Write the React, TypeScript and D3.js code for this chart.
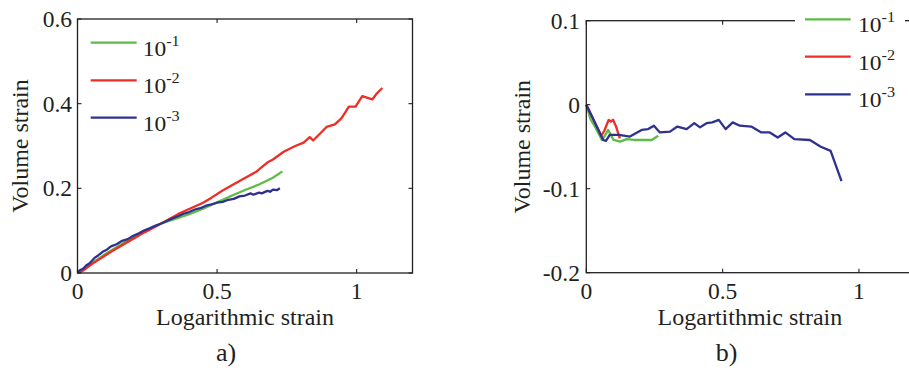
import React from "react";
import * as d3 from "d3";

// ---------- data ----------
const seriesLabels = ["-1", "-2", "-3"];
const seriesColors = ["#5dbb46", "#ee2d24", "#2e3192"];

// panel a)
const aGreen: [number, number][] = [
  [0, 0], [0.05, 0.022], [0.1, 0.045], [0.15, 0.065], [0.2, 0.085], [0.25, 0.102],
  [0.3, 0.117], [0.35, 0.128], [0.4, 0.139], [0.45, 0.152], [0.5, 0.167],
  [0.55, 0.182], [0.6, 0.196], [0.65, 0.209], [0.7, 0.225], [0.734, 0.24],
];
const aRed: [number, number][] = [
  [0, 0], [0.02, 0.006], [0.06, 0.025], [0.12, 0.05], [0.18, 0.073], [0.24, 0.096],
  [0.3, 0.117], [0.36, 0.139], [0.4, 0.151], [0.45, 0.166], [0.48, 0.178],
  [0.52, 0.195], [0.55, 0.206], [0.59, 0.221], [0.64, 0.239], [0.66, 0.25],
  [0.68, 0.261], [0.7, 0.268], [0.74, 0.287], [0.78, 0.3], [0.81, 0.308],
  [0.832, 0.321], [0.844, 0.313], [0.87, 0.33], [0.892, 0.345], [0.922, 0.351],
  [0.946, 0.366], [0.972, 0.393], [0.996, 0.393], [1.02, 0.418], [1.056, 0.41],
  [1.072, 0.424], [1.092, 0.437],
];
const aBlue: [number, number][] = [
  [0, 0.002], [0.01, 0.007], [0.02, 0.01], [0.03, 0.017], [0.045, 0.024], [0.06, 0.035],
  [0.075, 0.042], [0.09, 0.05], [0.105, 0.055], [0.12, 0.063], [0.14, 0.068],
  [0.16, 0.076], [0.18, 0.08], [0.2, 0.088], [0.22, 0.094], [0.24, 0.101],
  [0.26, 0.106], [0.28, 0.112], [0.3, 0.117], [0.32, 0.123], [0.34, 0.129],
  [0.36, 0.134], [0.38, 0.14], [0.4, 0.144], [0.42, 0.15], [0.44, 0.153],
  [0.46, 0.159], [0.48, 0.162], [0.5, 0.166], [0.52, 0.168], [0.54, 0.173],
  [0.56, 0.175], [0.58, 0.181], [0.6, 0.183], [0.62, 0.188], [0.63, 0.185],
  [0.65, 0.19], [0.66, 0.188], [0.68, 0.194], [0.69, 0.192], [0.7, 0.197],
  [0.715, 0.196], [0.725, 0.2],
];

// panel b)
const bGreen: [number, number][] = [
  [0, 0], [0.015, -0.017], [0.035, -0.028], [0.057, -0.042], [0.068, -0.037],
  [0.08, -0.03], [0.1, -0.042], [0.124, -0.044], [0.148, -0.041], [0.175, -0.042],
  [0.24, -0.042], [0.264, -0.037],
];
const bRed: [number, number][] = [
  [0, 0], [0.03, -0.02], [0.055, -0.037], [0.066, -0.031], [0.082, -0.018],
  [0.09, -0.02], [0.098, -0.018], [0.108, -0.025], [0.123, -0.04],
];
const bBlue: [number, number][] = [
  [0, 0], [0.062, -0.042], [0.072, -0.043], [0.086, -0.036], [0.12, -0.036],
  [0.16, -0.038], [0.203, -0.03], [0.227, -0.029], [0.248, -0.025], [0.27, -0.033],
  [0.307, -0.032], [0.334, -0.026], [0.368, -0.029], [0.396, -0.022], [0.417, -0.027],
  [0.441, -0.022], [0.462, -0.021], [0.486, -0.018], [0.511, -0.029], [0.537, -0.021],
  [0.563, -0.025], [0.605, -0.026], [0.642, -0.033], [0.673, -0.033], [0.702, -0.039],
  [0.73, -0.033], [0.763, -0.041], [0.82, -0.042], [0.86, -0.05], [0.896, -0.055],
  [0.936, -0.091],
];

const xTicks = [0, 0.5, 1];
const xTickLabels = ["0", "0.5", "1"];
const aYTicks = [0, 0.2, 0.4, 0.6];
const aYTickLabels = ["0", "0.2", "0.4", "0.6"];
const bYTicks = [-0.2, -0.1, 0, 0.1];
const bYTickLabels = ["-0.2", "-0.1", "0", "0.1"];

const FONT = "Liberation Serif, Times New Roman, serif";
const AXC = "#231f20";

type PanelProps = {
  x0: number; x1: number; yTop: number; yBot: number;
  yDomain: [number, number];
  yTicks: number[]; yTickLabels: string[];
  series: [number, number][][];
  xLabel: string; panelLabel: string; panelLabelX: number;
  yLabelX: number; yTickEnd: number;
  legend: { lx0: number; lx1: number; ly: number[]; tx: number; box?: [number, number, number, number] };
};

function Panel(p: PanelProps) {
  const x = d3.scaleLinear().domain([0, 1.2]).range([p.x0, p.x1]);
  const y = d3.scaleLinear().domain(p.yDomain).range([p.yBot, p.yTop]);
  const line = d3.line<[number, number]>().x((d) => x(d[0])).y((d) => y(d[1]));
  const tl = 4;
  const cx = (p.x0 + p.x1) / 2;
  const cy = (p.yTop + p.yBot) / 2;
  return (
    <g>
      {p.series.map((s, i) => (
        <path key={i} d={line(s) || ""} fill="none" stroke={seriesColors[i]} strokeWidth={2.3} strokeLinejoin="round" />
      ))}
      <rect x={p.x0} y={p.yTop} width={p.x1 - p.x0} height={p.yBot - p.yTop} fill="none" stroke={AXC} strokeWidth={1.3} />
      {xTicks.map((t) => (
        <g key={"xt" + t}>
          <line x1={x(t)} x2={x(t)} y1={p.yBot} y2={p.yBot - tl} stroke={AXC} strokeWidth={1.1} />
          <line x1={x(t)} x2={x(t)} y1={p.yTop} y2={p.yTop + tl} stroke={AXC} strokeWidth={1.1} />
        </g>
      ))}
      {p.yTicks.map((t) => (
        <g key={"yt" + t}>
          <line x1={p.x0} x2={p.x0 + tl} y1={y(t)} y2={y(t)} stroke={AXC} strokeWidth={1.1} />
          <line x1={p.x1} x2={p.x1 - tl} y1={y(t)} y2={y(t)} stroke={AXC} strokeWidth={1.1} />
        </g>
      ))}
      {xTicks.map((t, i) => (
        <text key={"xl" + t} x={x(t)} y={p.yBot + 26} textAnchor="middle" fontFamily={FONT} fontSize={23.5} fill={AXC}>
          {xTickLabels[i]}
        </text>
      ))}
      {p.yTicks.map((t, i) => (
        <text key={"yl" + t} x={p.yTickEnd} y={y(t) + 8} textAnchor="end" fontFamily={FONT} fontSize={23.5} fill={AXC}>
          {p.yTickLabels[i]}
        </text>
      ))}
      <text x={cx} y={325} textAnchor="middle" fontFamily={FONT} fontSize={24} fill={AXC}>{p.xLabel}</text>
      <text transform={`translate(${p.yLabelX},${cy}) rotate(-90)`} textAnchor="middle" fontFamily={FONT} fontSize={24} fill={AXC}>
        Volume strain
      </text>
      <text x={p.panelLabelX} y={361} textAnchor="middle" fontFamily={FONT} fontSize={26} fill={AXC}>{p.panelLabel}</text>
      {p.legend.box && (
        <rect x={p.legend.box[0]} y={p.legend.box[1]} width={p.legend.box[2]} height={p.legend.box[3]} fill="#fff" />
      )}
      {seriesLabels.map((lab, i) => (
        <g key={"lg" + i}>
          <line x1={p.legend.lx0} x2={p.legend.lx1} y1={p.legend.ly[i]} y2={p.legend.ly[i]} stroke={seriesColors[i]} strokeWidth={2.3} />
          <g transform={`translate(${p.legend.tx},${p.legend.ly[i] + 13}) scale(1.12,1)`}>
            <text x={0} y={0} fontFamily={FONT} fontSize={21} fill={AXC}>
              10
              <tspan dy={-10} fontSize={14.5}>{lab}</tspan>
            </text>
          </g>
        </g>
      ))}
    </g>
  );
}

export default function App() {
  return (
    <svg width={909} height={374} style={{ position: "absolute", left: 0, top: 0, background: "#fff" }}>
      <rect width={909} height={374} fill="#fff" />
      <Panel
        x0={77.5} x1={412.5} yTop={19} yBot={273} yDomain={[0, 0.6]}
        yTicks={aYTicks} yTickLabels={aYTickLabels}
        series={[aGreen, aRed, aBlue]}
        xLabel="Logarithmic strain" panelLabel="a)" panelLabelX={226}
        yLabelX={28} yTickEnd={72}
        legend={{ lx0: 90.7, lx1: 136.7, ly: [42.7, 80.3, 117.7], tx: 142.7 }}
      />
      <Panel
        x0={586.3} x1={913.5} yTop={20.7} yBot={272.7} yDomain={[-0.2, 0.1]}
        yTicks={bYTicks} yTickLabels={bYTickLabels}
        series={[bGreen, bRed, bBlue]}
        xLabel="Logartithmic strain" panelLabel="b)" panelLabelX={726.5}
        yLabelX={530} yTickEnd={580}
        legend={{ lx0: 805, lx1: 850.7, ly: [19.3, 56.7, 94.3], tx: 858, box: [795, 2, 110, 112] }}
      />
    </svg>
  );
}
